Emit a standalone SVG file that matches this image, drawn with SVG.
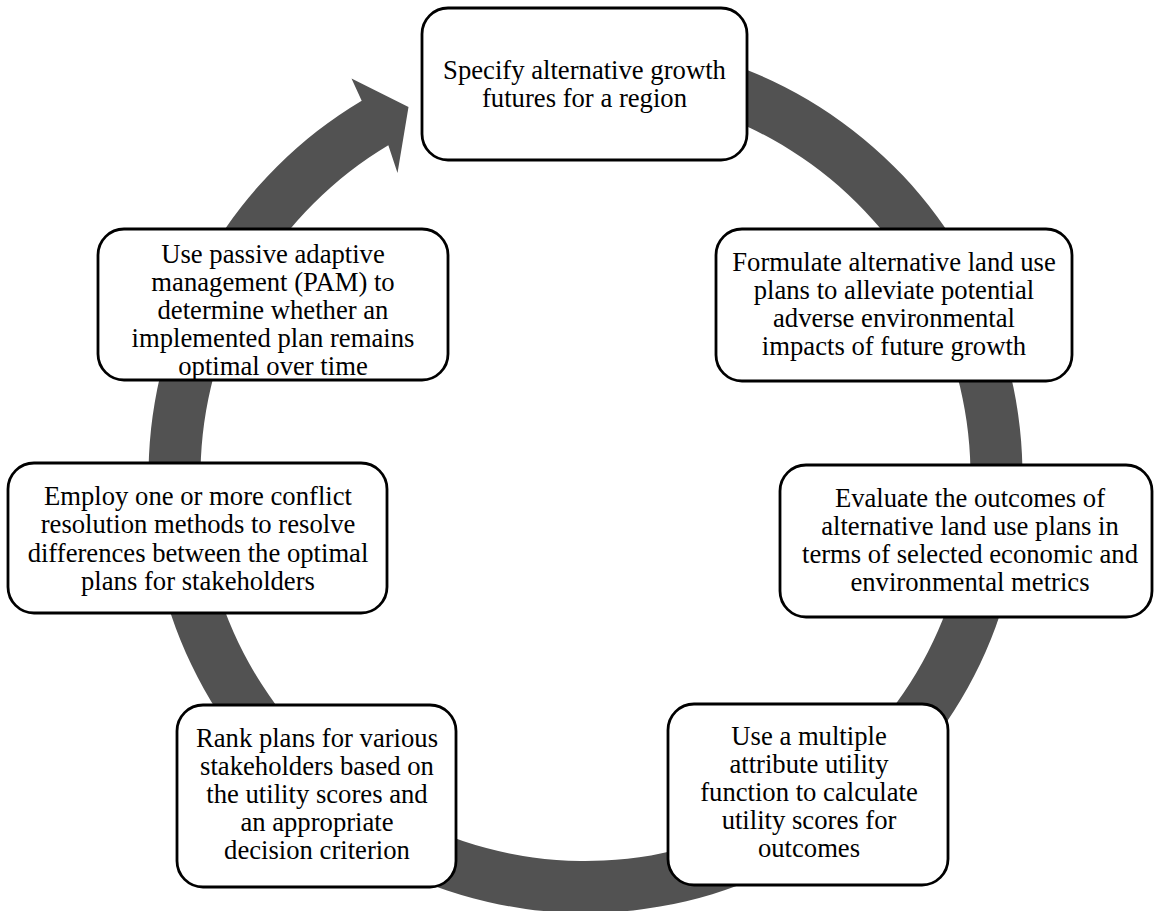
<svg xmlns="http://www.w3.org/2000/svg" width="1154" height="911" viewBox="0 0 1154 911">
<style>
.box{fill:#ffffff;stroke:#000000;stroke-width:2.8}
.t{font-family:"Liberation Serif","Times New Roman",serif;font-size:26.67px;fill:#000000;text-anchor:middle}
.ring{fill:#525252;stroke:none}
</style>
<rect width="1154" height="911" fill="#ffffff"/>
<g id="connectors">
<path class="ring" d="M 509.62 45.64 A 437 437 0 1 1 361.70 100.66 L 351.5 78.5 L 408.5 107 L 397.5 173 L 388.33 145.32 A 385 385 0 1 0 518.64 96.85 Z"/>
</g>
<g id="n1">
<rect class="box" x="422" y="8" width="325" height="152" rx="26"/>
<text class="t" x="584.5" y="78.5">Specify alternative growth</text>
<text class="t" x="584.5" y="106.5">futures for a region</text>
</g>
<g id="n2">
<rect class="box" x="716" y="229" width="356" height="152" rx="26"/>
<text class="t" x="894" y="270.5">Formulate alternative land use</text>
<text class="t" x="894" y="298.6">plans to alleviate potential</text>
<text class="t" x="894" y="326.7">adverse environmental</text>
<text class="t" x="894" y="354.8">impacts of future growth</text>
</g>
<g id="n3">
<rect class="box" x="780" y="465" width="372" height="152" rx="26"/>
<text class="t" x="970" y="506.5">Evaluate the outcomes of</text>
<text class="t" x="970" y="534.6">alternative land use plans in</text>
<text class="t" x="970" y="562.7">terms of selected economic and</text>
<text class="t" x="970" y="590.8">environmental metrics</text>
</g>
<g id="n4">
<rect class="box" x="668" y="704" width="280" height="181" rx="26"/>
<text class="t" x="809" y="744.8">Use a multiple</text>
<text class="t" x="809" y="772.8">attribute utility</text>
<text class="t" x="809" y="800.8">function to calculate</text>
<text class="t" x="809" y="828.8">utility scores for</text>
<text class="t" x="809" y="856.8">outcomes</text>
</g>
<g id="n5">
<rect class="box" x="177" y="705" width="279" height="182" rx="26"/>
<text class="t" x="317" y="746.5">Rank plans for various</text>
<text class="t" x="317" y="774.7">stakeholders based on</text>
<text class="t" x="317" y="802.9">the utility scores and</text>
<text class="t" x="317" y="831.1">an appropriate</text>
<text class="t" x="317" y="859.3">decision criterion</text>
</g>
<g id="n6">
<rect class="box" x="8" y="463" width="379" height="150" rx="26"/>
<text class="t" x="198" y="505">Employ one or more conflict</text>
<text class="t" x="198" y="533.3">resolution methods to resolve</text>
<text class="t" x="198" y="561.6">differences between the optimal</text>
<text class="t" x="198" y="589.9">plans for stakeholders</text>
</g>
<g id="n7">
<rect class="box" x="98" y="229" width="350" height="151" rx="26"/>
<text class="t" x="273" y="263">Use passive adaptive</text>
<text class="t" x="273" y="291">management (PAM) to</text>
<text class="t" x="273" y="319">determine whether an</text>
<text class="t" x="273" y="347">implemented plan remains</text>
<text class="t" x="273" y="375">optimal over time</text>
</g>
</svg>
